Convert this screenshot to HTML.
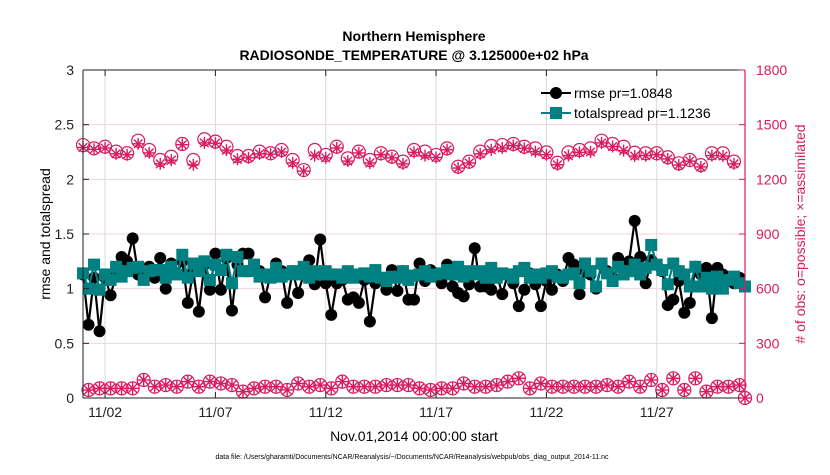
<!DOCTYPE html>
<html><head><meta charset="utf-8"><style>
body{margin:0;background:#fff;}
svg text{font-family:"Liberation Sans",Arial,sans-serif;}
</style></head><body>
<svg id="chart" width="830" height="470" viewBox="0 0 830 470" xmlns="http://www.w3.org/2000/svg">
<g id="grid"></g>
<g id="marks"></g>
<g id="axes"></g>
<text x="414" y="41" text-anchor="middle" font-size="14" font-weight="bold">Northern Hemisphere</text>
<text x="414" y="60" text-anchor="middle" font-size="14" font-weight="bold">RADIOSONDE_TEMPERATURE @ 3.125000e+02 hPa</text>
<text x="414" y="441" text-anchor="middle" font-size="14">Nov.01,2014 00:00:00 start</text>
<text x="412" y="459" text-anchor="middle" font-size="7">data file: /Users/gharamti/Documents/NCAR/Reanalysis/~/Documents/NCAR/Reanalysis/webpub/obs_diag_output_2014-11.nc</text>
<text transform="translate(50,234) rotate(-90)" text-anchor="middle" font-size="14">rmse and totalspread</text>
<text transform="translate(805,234) rotate(-90)" text-anchor="middle" font-size="14" fill="#d81b60"># of obs: o=possible; ×=assimilated</text>
<g>
<g>
<line x1="541" y1="93" x2="571" y2="93" stroke="#000" stroke-width="2"/><circle cx="556" cy="93" r="6" fill="#000"/>
<text x="574" y="98" font-size="14">rmse pr=1.0848</text></g>
<g>
<line x1="541" y1="113" x2="571" y2="113" stroke="#008080" stroke-width="2"/><rect x="550" y="107" width="12" height="12" fill="#008080"/>
<text x="574" y="118" font-size="14">totalspread pr=1.1236</text></g>
</g>
</svg>
<script>
const rmse=[1.13,0.67,1.1,0.61,1.1,0.94,1.13,1.29,1.25,1.46,1.13,1.17,1.2,1.1,1.28,1.0,1.23,1.14,1.25,0.87,1.16,0.79,1.22,0.99,1.32,0.99,1.28,0.8,1.22,1.32,
1.32,1.16,1.16,0.92,1.13,1.23,1.16,0.87,1.16,0.96,1.13,1.26,1.04,1.45,1.05,0.76,1.05,1.08,0.9,0.92,0.87,1.08,0.7,1.05,1.1,0.99,1.17,0.98,1.16,0.9,
0.9,1.23,1.07,1.17,1.14,1.05,1.22,1.02,0.96,0.93,1.04,1.37,1.02,1.02,0.99,1.13,0.95,1.13,1.05,0.84,0.99,1.14,1.04,0.84,1.07,0.99,1.13,1.07,1.28,1.22,
0.95,1.16,1.13,1.0,1.22,1.16,1.1,1.28,1.16,1.25,1.62,1.29,1.05,1.26,1.22,1.16,0.85,0.9,1.07,0.78,0.87,1.2,1.13,1.19,0.73,1.19,1.13,1.08,1.05,1.1,1.02];
const spread=[1.14,1.0,1.22,0.99,1.13,1.08,1.2,1.11,1.16,1.19,1.2,1.08,1.16,1.17,1.17,1.1,1.2,1.13,1.31,1.1,1.23,1.16,1.25,1.08,1.22,1.17,1.31,1.05,1.29,1.16,
1.16,1.22,1.11,1.13,1.1,1.19,1.11,1.13,1.16,1.13,1.2,1.1,1.16,1.13,1.16,1.13,1.13,1.1,1.16,1.1,1.13,1.14,1.11,1.17,1.1,1.07,1.11,1.1,1.16,1.08,
1.12,1.13,1.16,1.11,1.13,1.14,1.17,1.13,1.2,1.11,1.16,1.13,1.16,1.1,1.19,1.1,1.14,1.13,1.1,1.16,1.19,1.1,1.13,1.1,1.14,1.16,1.11,1.1,1.13,1.14,
1.05,1.23,1.16,1.02,1.23,1.14,1.07,1.2,1.13,1.16,1.22,1.13,1.19,1.4,1.22,1.17,1.04,1.23,1.16,1.13,1.02,1.2,1.02,1.1,1.0,1.11,1.0,1.08,1.11,1.05,1.02];
const possibleHigh=[1388,1370,1379,1352,1343,1412,1361,1306,1324,1394,1306,1420,1407,1379,1328,1328,1352,1343,1361,1306,
1251,1361,1334,1379,1315,1352,1306,1343,1324,1297,1361,1352,1334,1370,1269,1297,1352,1383,1388,1394,
1379,1370,1348,1291,1348,1361,1370,1412,1394,1379,1346,1343,1343,1321,1288,1306,1278,1343,1343,1297];
const assimHigh=[1375,1365,1372,1340,1335,1395,1345,1285,1305,1390,1280,1400,1398,1360,1310,1318,1340,1338,1350,1290,
1245,1330,1318,1372,1300,1345,1290,1335,1318,1285,1348,1330,1320,1362,1262,1290,1340,1362,1372,1385,
1370,1352,1335,1280,1330,1348,1350,1400,1380,1358,1328,1330,1335,1312,1278,1300,1268,1330,1328,1285];
const possibleLow=[44,53,53,53,53,99,62,71,62,90,62,90,80,71,35,53,62,62,44,80,
62,71,53,90,62,62,62,71,71,71,53,44,53,53,80,62,62,71,90,108,
53,80,62,62,62,62,62,71,62,90,62,99,44,108,44,108,35,62,62,71];
const assimLow=possibleLow.slice();
const finalCount=0;
const xTickDays=[1,6,11,16,21,26];
const xTickLabels=['11/02','11/07','11/12','11/17','11/22','11/27'];
const yLeftTicks=[0,0.5,1,1.5,2,2.5,3];
const yRightTicks=[0,300,600,900,1200,1500,1800];

const X0=83,X1=745,Y0=398,Y1=70,NS='http://www.w3.org/2000/svg';
const xs=d=>X0+(X1-X0)*d/30;          // d in days since Nov 1
const yl=v=>Y0-(Y0-Y1)*v/3;
const yr=v=>Y0-(Y0-Y1)*v/1800;
function mk(tag,attrs,parent){const e=document.createElementNS(NS,tag);for(const k in attrs)e.setAttribute(k,attrs[k]);parent.appendChild(e);return e;}
const grid=document.getElementById('grid'),marks=document.getElementById('marks'),axes=document.getElementById('axes');
xTickDays.forEach(d=>{const l=mk('line',{x1:xs(d),x2:xs(d),y1:Y1,y2:Y0,stroke:'#d9d9d9','stroke-width':1},grid);

});
yLeftTicks.forEach(v=>{if(v===0||v===3)return;const l=mk('line',{x1:X0,x2:X1,y1:yl(v),y2:yl(v),stroke:'#f3d3de','stroke-width':1},grid);

});

function drawLine(arr,color,name){
 const pts=arr.map((v,i)=>xs(i*0.25).toFixed(1)+','+yl(v).toFixed(1)).join(' ');
 const p=mk('polyline',{points:pts,fill:'none',stroke:color,'stroke-width':2.2},marks);
 
 
}
drawLine(rmse,'#000','rmse-line');
rmse.forEach((v,i)=>{const c=mk('circle',{cx:xs(i*0.25),cy:yl(v),r:6,fill:'#000'},marks);

});
drawLine(spread,'#008080','totalspread-line');
spread.forEach((v,i)=>{const r=mk('rect',{x:xs(i*0.25)-6,y:yl(v)-6,width:12,height:12,fill:'#008080'},marks);

});

const PINK='#d81b60';
function circ(d,v){const c=mk('circle',{cx:xs(d),cy:yr(v),r:6.5,fill:'none',stroke:PINK,'stroke-width':1.2},marks);

}
function star(d,v){const g=mk('g',{stroke:PINK,'stroke-width':1.4},marks);


const x=xs(d),y=yr(v),s=6;
mk('line',{x1:x-s,x2:x+s,y1:y,y2:y},g);mk('line',{x1:x,x2:x,y1:y-s,y2:y+s},g);
mk('line',{x1:x-4.3,x2:x+4.3,y1:y-4.3,y2:y+4.3},g);mk('line',{x1:x-4.3,x2:x+4.3,y1:y+4.3,y2:y-4.3},g);}
possibleHigh.forEach((v,j)=>circ(j*0.5,v));
assimHigh.forEach((v,j)=>star(j*0.5,v));
possibleLow.forEach((v,j)=>circ(j*0.5+0.25,v));
assimLow.forEach((v,j)=>star(j*0.5+0.25,v));
circ(30,finalCount);star(30,finalCount);

// axes
mk('line',{x1:X0,x2:X1,y1:Y1,y2:Y1,stroke:'#222','stroke-width':1},axes);
mk('line',{x1:X0,x2:X1,y1:Y0,y2:Y0,stroke:'#222','stroke-width':1},axes);
mk('line',{x1:X0,x2:X0,y1:Y1,y2:Y0,stroke:'#222','stroke-width':1},axes);
mk('line',{x1:X1,x2:X1,y1:Y1,y2:Y0,stroke:PINK,'stroke-width':1.2},axes);
xTickDays.forEach((d,i)=>{mk('line',{x1:xs(d),x2:xs(d),y1:Y0,y2:Y0-6,stroke:'#222'},axes);mk('line',{x1:xs(d),x2:xs(d),y1:Y1,y2:Y1+6,stroke:'#222'},axes);
 const t=mk('text',{x:xs(d),y:Y0+19,'text-anchor':'middle','font-size':14,fill:'#222'},axes);t.textContent=xTickLabels[i];
 
 });
yLeftTicks.forEach(v=>{mk('line',{x1:X0,x2:X0+6,y1:yl(v),y2:yl(v),stroke:'#222'},axes);
 const t=mk('text',{x:X0-9,y:yl(v)+5,'text-anchor':'end','font-size':14,fill:'#222'},axes);t.textContent=String(v);
 
 });
yRightTicks.forEach(v=>{mk('line',{x1:X1-6,x2:X1,y1:yr(v),y2:yr(v),stroke:PINK},axes);
 const t=mk('text',{x:X1+11,y:yr(v)+5,'text-anchor':'start','font-size':14,fill:PINK},axes);t.textContent=String(v);
 
 });
</script>
</body></html>
